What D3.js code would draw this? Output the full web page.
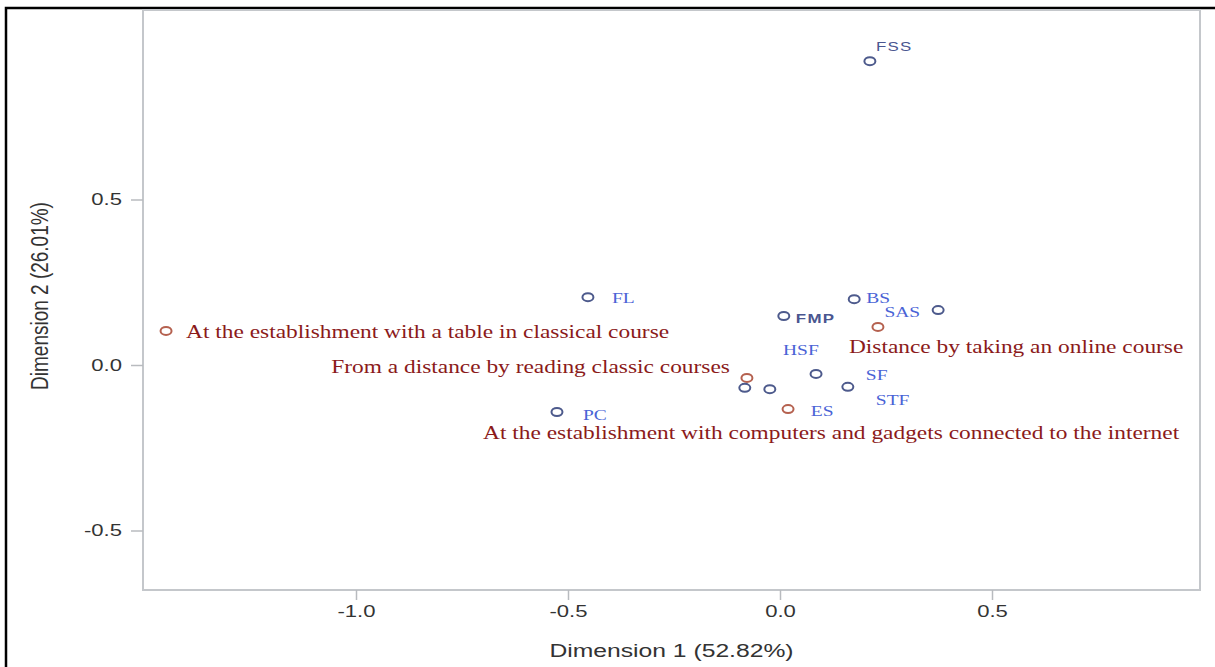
<!DOCTYPE html>
<html>
<head>
<meta charset="utf-8">
<script src="https://cdn.jsdelivr.net/npm/d3@7"></script>
<style>
  html, body { margin: 0; padding: 0; background: #fff; }
  svg { display: block; }
</style>
</head>
<body>
<div id="chart"></div>
<script>
// correspondence analysis map: faculties (blue) vs study modes (red)

var facultyNames = ['FSS', 'FL', 'BS', 'SAS', 'FMP', 'HSF', 'SF', 'STF', 'ES', 'PC'];
var facultyDim1  = [0.212, -0.453, 0.175, 0.373, 0.009, 0.085, 0.160, -0.024, -0.083, -0.526];
var facultyDim2  = [0.918, 0.205, 0.199, 0.166, 0.148, -0.027, -0.066, -0.073, -0.069, -0.142];

var modeNames = [
    'At the establishment with a table in classical course',
    'From a distance by reading classic courses',
    'Distance by taking an online course',
    'At the establishment with computers and gadgets connected to the internet'
];
var modeDim1 = [-1.448, -0.078, 0.231, 0.019];
var modeDim2 = [0.103, -0.039, 0.115, -0.133];

var xTicks = [-1.0, -0.5, 0.0, 0.5];
var yTicks = [-0.5, 0.0, 0.5];
var xTitle = 'Dimension 1 (52.82%)';
var yTitle = 'Dimension 2 (26.01%)';

// label placement (offset from the marker, in px) - layout only
var facultyLabelPos = {
    FSS: [6, -10, 'start'], FL: [24, 6, 'start'], BS: [12, 4, 'start'],
    SAS: [-18, 7, 'end'], FMP: [12, 7, 'start'], HSF: [-33, -19, 'start'],
    SF: [18, -7, 'start'], STF: [106, 16, 'start'], ES: [66, 28, 'start'],
    PC: [26, 8, 'start']
};
var modeLabelPos = [[20, 7, 'start'], [-17, -5, 'end'], [-29, 26, 'start'], [-305, 30, 'start']];

var W = 1215, H = 667;
var margin = {top: 10, right: 15, bottom: 77, left: 143};
var width = W - margin.left - margin.right,
    height = H - margin.top - margin.bottom;
var SX = 1.3; // the picture is stretched horizontally

var svg = d3.select('#chart').append('svg')
    .attr('width', W)
    .attr('height', H);

// outer black frame
svg.append('rect')
    .attr('x', 6).attr('y', 8)
    .attr('width', W + 20).attr('height', H + 20)
    .style('fill', 'none')
    .style('stroke', '#000')
    .style('stroke-width', 2.5);

var chart = svg.append('g')
    .attr('transform', 'translate(' + margin.left + ',' + margin.top + ')');

var xScale = d3.scaleLinear()
    .domain([(0 - 637) / 424, (width - 637) / 424])
    .range([0, width]);
var yScale = d3.scaleLinear()
    .domain([(355 - height) / 331, 355 / 331])
    .range([height, 0]);

// move x/y into a transform so text can be widened like the picture
function stretch(sel, sy) {
    sel.each(function() {
        var t = d3.select(this);
        var x = +t.attr('x') || 0, y = +t.attr('y') || 0;
        t.attr('transform', 'translate(' + x + ',' + y + ') scale(' + SX + ',' + (sy || 1) + ')')
            .attr('x', 0).attr('y', 0);
    });
}

// plot frame
chart.append('rect')
    .attr('x', 0).attr('y', 0)
    .attr('width', width).attr('height', height)
    .style('fill', 'none')
    .style('stroke', '#c4c7cb')
    .style('stroke-width', 2);

function axisStyle(g) {
    g.select('.domain').remove();
    g.selectAll('line').style('stroke', '#b8bbbf').style('stroke-width', 1.5);
    g.selectAll('text')
        .style('fill', '#333')
        .style('font-family', "'Liberation Sans', Arial, sans-serif")
        .style('font-size', '17px');
}

var fmt = function(d) { return d.toFixed(1); };

var yAxis = d3.axisLeft(yScale).tickValues(yTicks).tickFormat(fmt).tickSize(12).tickPadding(9);
chart.append('g').call(yAxis).call(axisStyle)
    .selectAll('text').call(stretch);

var xAxis = d3.axisBottom(xScale).tickValues(xTicks).tickFormat(fmt).tickSize(10).tickPadding(5);
chart.append('g').attr('transform', 'translate(0,' + height + ')')
    .call(xAxis).call(axisStyle)
    .selectAll('text').call(stretch);

// axis titles
chart.append('text')
    .text(xTitle)
    .attr('x', width / 2).attr('y', height + 67)
    .style('text-anchor', 'middle')
    .style('fill', '#333')
    .style('font-family', "'Liberation Sans', Arial, sans-serif")
    .style('font-size', '19px')
    .call(stretch);

chart.append('text')
    .text(yTitle)
    .attr('transform', 'translate(' + (48 - margin.left) + ',' + (height / 2 - 4) + ') rotate(-90) scale(1,' + SX + ')')
    .style('text-anchor', 'middle')
    .style('fill', '#333')
    .style('font-family', "'Liberation Sans', Arial, sans-serif")
    .style('font-size', '19px');

// study modes (red)
var modes = modeNames.map(function(n, i) {
    return {name: n, x: modeDim1[i], y: modeDim2[i], pos: modeLabelPos[i]};
});
chart.selectAll('ellipse.mode')
    .data(modes)
    .enter()
    .append('ellipse').classed('mode', true)
    .attr('cx', function(d) { return xScale(d.x); })
    .attr('cy', function(d) { return yScale(d.y); })
    .attr('rx', 5.5).attr('ry', 4)
    .style('fill', 'none')
    .style('stroke', '#b5614f')
    .style('stroke-width', 2);
chart.selectAll('text.mode')
    .data(modes)
    .enter()
    .append('text').classed('mode', true)
    .text(function(d) { return d.name; })
    .attr('x', function(d) { return xScale(d.x) + d.pos[0]; })
    .attr('y', function(d) { return yScale(d.y) + d.pos[1]; })
    .style('text-anchor', function(d) { return d.pos[2]; })
    .style('fill', '#8b1a1a')
    .style('font-family', "'Liberation Serif', 'Times New Roman', serif")
    .style('font-size', '18px')
    .call(stretch);

// faculties (blue)
var faculties = facultyNames.map(function(n, i) {
    return {name: n, x: facultyDim1[i], y: facultyDim2[i], pos: facultyLabelPos[n]};
});
chart.selectAll('ellipse.fac')
    .data(faculties)
    .enter()
    .append('ellipse').classed('fac', true)
    .attr('cx', function(d) { return xScale(d.x); })
    .attr('cy', function(d) { return yScale(d.y); })
    .attr('rx', 5.5).attr('ry', 4)
    .style('fill', 'none')
    .style('stroke', '#4d5a8c')
    .style('stroke-width', 2);
chart.selectAll('text.fac')
    .data(faculties)
    .enter()
    .append('text').classed('fac', true)
    .text(function(d) { return d.name; })
    .attr('x', function(d) { return xScale(d.x) + d.pos[0]; })
    .attr('y', function(d) { return yScale(d.y) + d.pos[1]; })
    .style('text-anchor', function(d) { return d.pos[2]; })
    .style('fill', function(d) { return (d.name == 'FSS' || d.name == 'FMP') ? '#4a5690' : '#4a63d6'; })
    .style('font-family', function(d) {
        return (d.name == 'FSS' || d.name == 'FMP') ? "'Liberation Sans', Arial, sans-serif" : "'Liberation Serif', 'Times New Roman', serif";
    })
    .style('font-weight', function(d) { return d.name == 'FMP' ? 700 : 400; })
    .style('letter-spacing', function(d) { return (d.name == 'FSS' || d.name == 'FMP') ? '1px' : '0px'; })
    .style('font-size', function(d) { return (d.name == 'FSS' || d.name == 'FMP') ? '13px' : '15px'; })
    .call(stretch);
</script>
</body>
</html>
